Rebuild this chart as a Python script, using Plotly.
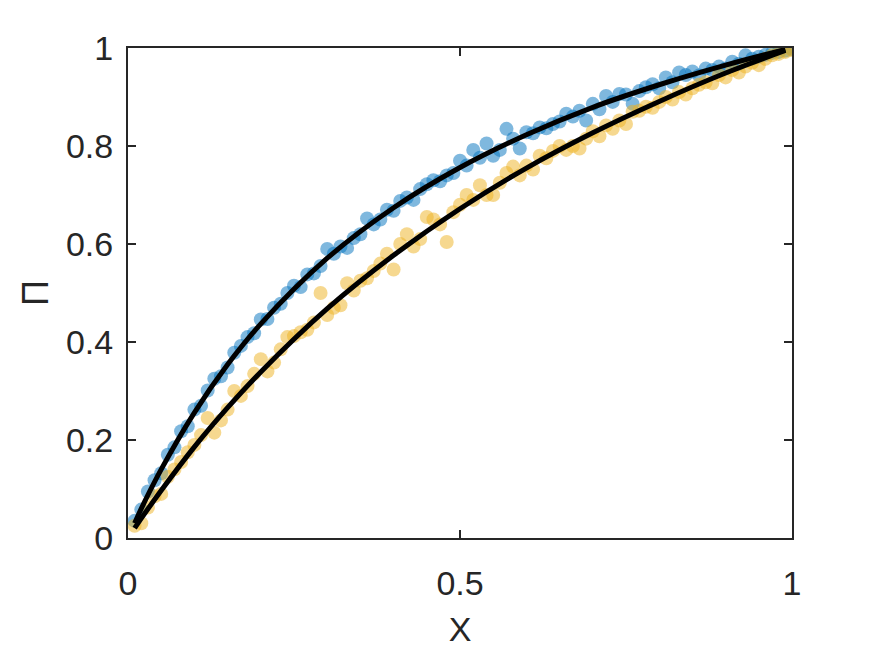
import plotly.graph_objects as go

# Scatter x positions
x_data = [round(0.01 * i, 2) for i in range(1, 101)]

blue_y = [0.035,0.058,0.095,0.118,0.132,0.170,0.185,0.218,0.228,0.262,
0.270,0.301,0.325,0.330,0.348,0.378,0.392,0.410,0.418,0.446,
0.447,0.470,0.478,0.500,0.515,0.512,0.538,0.540,0.555,0.590,
0.580,0.595,0.592,0.612,0.620,0.652,0.640,0.650,0.670,0.668,
0.688,0.695,0.690,0.712,0.722,0.730,0.728,0.740,0.745,0.770,
0.760,0.792,0.776,0.805,0.780,0.792,0.835,0.815,0.795,0.828,
0.826,0.838,0.836,0.845,0.850,0.866,0.860,0.872,0.852,0.886,
0.875,0.902,0.890,0.906,0.905,0.886,0.912,0.920,0.926,0.918,
0.940,0.930,0.950,0.945,0.952,0.944,0.958,0.955,0.962,0.958,
0.972,0.968,0.985,0.978,0.982,0.986,0.990,0.992,0.995,0.998]

yellow_y = [0.025,0.030,0.062,0.085,0.090,0.125,0.140,0.155,0.175,0.190,
0.210,0.245,0.215,0.240,0.262,0.300,0.290,0.310,0.335,0.365,
0.340,0.358,0.385,0.410,0.412,0.420,0.425,0.440,0.500,0.455,
0.470,0.475,0.520,0.505,0.525,0.530,0.545,0.560,0.580,0.548,
0.600,0.620,0.595,0.610,0.655,0.650,0.640,0.604,0.665,0.680,
0.700,0.690,0.720,0.700,0.700,0.725,0.745,0.758,0.740,0.760,
0.752,0.780,0.775,0.790,0.800,0.792,0.800,0.795,0.815,0.830,
0.820,0.842,0.835,0.852,0.845,0.870,0.872,0.880,0.878,0.890,
0.900,0.895,0.910,0.905,0.918,0.925,0.930,0.928,0.945,0.940,
0.955,0.950,0.962,0.970,0.965,0.978,0.985,0.988,0.992,0.996]

# Fitted curves
x_fit = [0.01, 0.02, 0.05, 0.1, 0.15, 0.2, 0.3, 0.4, 0.5, 0.6, 0.7, 0.8, 0.9, 0.99]
blue_fit = [0.030, 0.060, 0.140, 0.256, 0.354, 0.437, 0.571, 0.674, 0.756, 0.823, 0.879, 0.925, 0.965, 0.997]
yellow_fit = [0.020, 0.040, 0.097, 0.186, 0.266, 0.339, 0.468, 0.577, 0.672, 0.755, 0.827, 0.891, 0.949, 0.995]

x_ticks = [0, 0.5, 1]
x_ticktext = ["0", "0.5", "1"]
y_ticks = [0, 0.2, 0.4, 0.6, 0.8, 1]
y_ticktext = ["0", "0.2", "0.4", "0.6", "0.8", "1"]

FONT = "Liberation Sans, Arial, sans-serif"

fig = go.Figure()
fig.add_trace(go.Scatter(x=x_data, y=blue_y, mode="markers",
                         marker=dict(size=14, color="#0072BD", opacity=0.5, line=dict(width=0)),
                         showlegend=False))
fig.add_trace(go.Scatter(x=x_data, y=yellow_y, mode="markers",
                         marker=dict(size=14, color="#EDB120", opacity=0.5, line=dict(width=0)),
                         showlegend=False))
fig.add_trace(go.Scatter(x=x_fit, y=blue_fit, mode="lines", line=dict(color="black", width=5, shape="spline"),
                         showlegend=False))
fig.add_trace(go.Scatter(x=x_fit, y=yellow_fit, mode="lines", line=dict(color="black", width=5, shape="spline"),
                         showlegend=False))

axis_common = dict(showgrid=False, zeroline=False, showline=True, linecolor="#262626", linewidth=2,
                   mirror="ticks", ticks="inside", ticklen=8, tickwidth=2, tickcolor="#262626",
                   automargin=False,
                   tickfont=dict(family=FONT, size=34, color="#262626"))

fig.update_xaxes(range=[0, 1], tickvals=x_ticks, ticktext=x_ticktext,
                 title=dict(text="X", font=dict(family=FONT, size=34, color="#262626"), standoff=22),
                 ticklabelstandoff=14, **axis_common)
fig.update_yaxes(range=[0, 1], tickvals=y_ticks, ticktext=y_ticktext,
                 title=dict(text="Π", font=dict(family=FONT, size=36, color="#262626"), standoff=6),
                 ticklabelstandoff=6, **axis_common)

fig.update_layout(width=860, height=640, margin=dict(l=120, r=76, t=40, b=110),
                  plot_bgcolor="white", paper_bgcolor="white")

fig.write_html("out.html")
